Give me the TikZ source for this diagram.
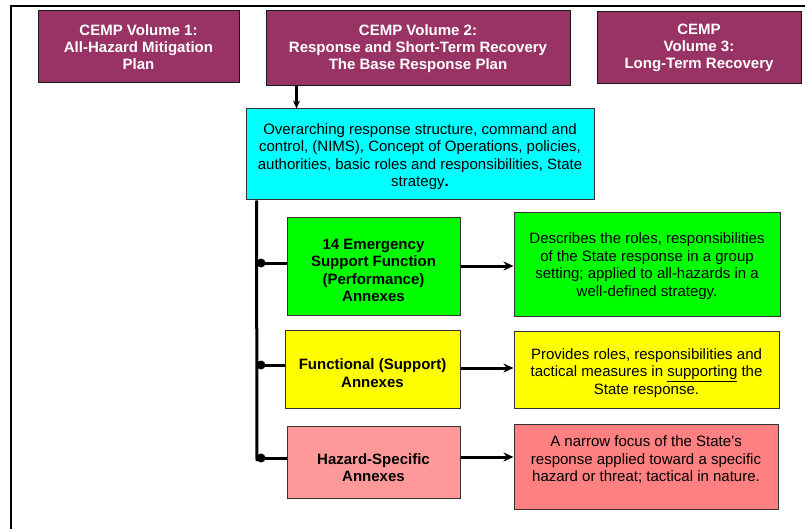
\documentclass[tikz,border=0pt]{standalone}
\usepackage{fontspec}
\setmainfont{Liberation Sans}
\usetikzlibrary{arrows.meta}
\definecolor{volc}{HTML}{993366}
\definecolor{cyanc}{HTML}{00FFFF}
\definecolor{greenc}{HTML}{00FF00}
\definecolor{yellowc}{HTML}{FFFF00}
\definecolor{pinka}{HTML}{FF9999}
\definecolor{pinkb}{HTML}{FF8080}
\definecolor{edgec}{HTML}{333333}
\newcommand{\upstrut}[1]{\rule{0pt}{#1}}
\begin{document}
\begin{tikzpicture}[x=1pt,y=-1pt,
  box/.style={draw=edgec, line width=1pt, rectangle, inner sep=2pt, align=center,
    font=\fontsize{15}{17.5}\selectfont},
  vol/.style={box, fill=volc, draw=black!90, text=white,
    font=\bfseries\fontsize{15}{17}\selectfont},
  annex/.style={box, font=\bfseries\fontsize{15}{17.5}\selectfont},
  desc/.style={box},
  trunk/.style={line width=3pt, black},
  conn/.style={line width=3pt, black, -{Stealth[length=10pt,width=9pt]}},
  dotc/.style={circle, fill=black, inner sep=0pt, minimum size=9pt}
]
\useasboundingbox (0,0) rectangle (805,529);
\fill[white] (0,0) rectangle (805,529);
% frame
\draw[line width=2pt, black] (11,529) -- (11,6) -- (805,6);

% top volumes
\node[vol, minimum width=201pt, minimum height=72pt] (v1) at (138.5,47)
  {CEMP Volume 1:\\All-Hazard Mitigation\\Plan};
\node[vol, minimum width=304pt, minimum height=75pt] (v2) at (418,48.5)
  {CEMP Volume 2:\\Response and Short-Term Recovery\\The Base Response Plan};
\node[vol, minimum width=204pt, minimum height=72pt] (v3) at (699,48)
  {CEMP\\Volume 3:\\Long-Term Recovery};

% base plan
\node[box, fill=cyanc, minimum width=348pt, minimum height=91pt] (cy) at (420,154.5)
  {\upstrut{15pt}Overarching response structure, command and\\control, (NIMS), Concept of Operations, policies,\\authorities, basic roles and responsibilities, State\\strategy\textbf{.}};

\draw[line width=2.2pt, -{Stealth[length=8pt,width=7pt]}]
  ([xshift=31pt]v2.south west) -- ([xshift=51pt]cy.north west);

% annexes
\node[annex, fill=greenc, minimum width=173pt, minimum height=97pt] (a1) at (373.5,266.5)
  {\upstrut{18pt}14 Emergency\\Support Function\\(Performance)\\Annexes};
\node[annex, fill=yellowc, minimum width=175pt, minimum height=78pt] (a2) at (372.5,369)
  {\upstrut{19pt}Functional (Support)\\Annexes};
\node[annex, fill=pinka, minimum width=173pt, minimum height=72pt] (a3) at (373.5,462)
  {\upstrut{22pt}Hazard-Specific\\Annexes};

% descriptions
\node[desc, fill=greenc, minimum width=266pt, minimum height=103pt] (b1) at (647,264.5)
  {\upstrut{14pt}Describes the roles, responsibilities\\of the State response in a group\\setting; applied to all-hazards in a\\well-defined strategy.};
\node[desc, fill=yellowc, minimum width=265pt, minimum height=77pt] (b2) at (646.5,369.5)
  {\upstrut{18pt}Provides roles, responsibilities and\\tactical measures in \underline{supporting} the\\State response.};
\node[desc, fill=pinkb, minimum width=264pt, minimum height=85pt, text depth=15pt] (b3) at (646,466.5)
  {A narrow focus of the State’s\\response applied toward a specific\\hazard or threat; tactical in nature.};

% trunk and branches
\coordinate (tend) at (257,461);
\draw[trunk] ([xshift=11pt]cy.south west) -- (tend);
\node[dotc] (d1) at (261,263) {};
\node[dotc] (d2) at (261,365) {};
\node[dotc] (d3) at (261,458) {};
\draw[trunk] (d1.center) -- (d1.center -| a1.west);
\draw[trunk] (d2.center) -- (d2.center -| a2.west);
\draw[trunk] (d3.center) -- (d3.center -| a3.west);

% arrows to descriptions
\draw[conn] ([yshift=0.5pt]a1.east) -- ([yshift=0.5pt]a1.east -| b1.west);
\draw[conn] ([yshift=1pt]a2.east) -- ([yshift=1pt]a2.east -| b2.west);
\draw[conn] ([yshift=5pt]a3.east) -- ([yshift=5pt]a3.east -| b3.west);
\end{tikzpicture}
\end{document}
